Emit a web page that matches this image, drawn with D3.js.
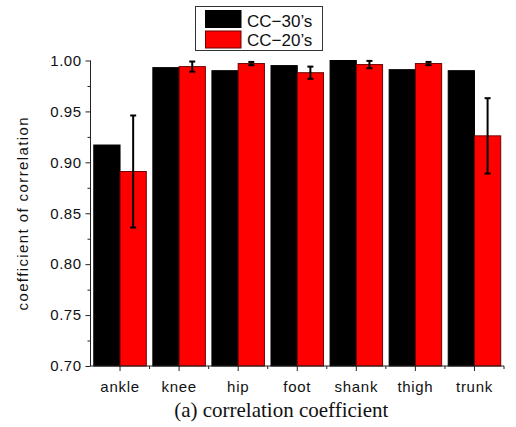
<!DOCTYPE html>
<html>
<head>
<meta charset="utf-8">
<script src="https://cdn.jsdelivr.net/npm/d3@7"></script>
<style>
  html, body { margin: 0; padding: 0; background: #fff; }
  svg { display: block; }
</style>
</head>
<body>
<svg id="chart" width="516" height="427"></svg>
<script>
const categories = ["ankle", "knee", "hip", "foot", "shank", "thigh", "trunk"];
const cc30 = [0.917, 0.993, 0.990, 0.995, 1.000, 0.991, 0.990];
const cc20 = [0.891, 0.994, 0.997, 0.988, 0.996, 0.997, 0.926];
const cc20Err = [0.055, 0.005, 0.0016, 0.006, 0.0036, 0.0016, 0.037];
const seriesNames = ["CC\u221230\u2019s", "CC\u221220\u2019s"];
const yTicks = [0.70, 0.75, 0.80, 0.85, 0.90, 0.95, 1.00];
const yMinorTicks = [0.725, 0.775, 0.825, 0.875, 0.925, 0.975];
const yTitle = "coefficient of correlation";
const caption = "(a) correlation coefficient";

(function () {
const svg = d3.select("#chart");
const pLeft = 90.5, pRight = 504, pTop = 60.5, pBottom = 366;
const sansFont = "'Liberation Sans', Arial, sans-serif";

const x = d3.scaleBand().domain(categories).range([pLeft, pRight]).paddingInner(0).paddingOuter(0);
const xInner = d3.scaleBand().domain([0, 1]).range([0, x.bandwidth()]).paddingInner(0).paddingOuter(0.125);
const y = d3.scaleLinear().domain([0.70, 1.00]).range([pBottom, pTop]);

const series = [
  { name: seriesNames[0], values: cc30, fill: "#000000", stroke: "#000000" },
  { name: seriesNames[1], values: cc20, fill: "#ff0000", stroke: "#6e0000", err: cc20Err }
];

// bars
series.forEach((s, si) => {
  svg.append("g").selectAll("rect")
    .data(categories)
    .join("rect")
    .attr("x", d => x(d) + xInner(si))
    .attr("y", (d, i) => y(s.values[i]))
    .attr("width", xInner.bandwidth())
    .attr("height", (d, i) => y(0.70) - y(s.values[i]))
    .attr("fill", s.fill)
    .attr("stroke", s.stroke)
    .attr("stroke-width", 1);
});

// error bars
const errS = series[1];
const eg = svg.append("g").attr("stroke", "#000").attr("stroke-width", 2);
categories.forEach((c, i) => {
  const cx = x(c) + xInner(1) + xInner.bandwidth() / 2;
  const hi = y(errS.values[i] + errS.err[i]);
  const lo = y(errS.values[i] - errS.err[i]);
  eg.append("line").attr("x1", cx).attr("x2", cx).attr("y1", hi).attr("y2", lo);
  eg.append("line").attr("x1", cx - 3).attr("x2", cx + 3).attr("y1", hi).attr("y2", hi);
  eg.append("line").attr("x1", cx - 3).attr("x2", cx + 3).attr("y1", lo).attr("y2", lo);
});

// y axis
const yAxis = d3.axisLeft(y).tickValues(yTicks).tickFormat(d3.format(".2f")).tickSize(5).tickPadding(4);
const yg = svg.append("g").attr("transform", `translate(${pLeft},0)`).call(yAxis);
yg.select(".domain").attr("stroke", "#222").attr("d", `M0,${pTop}V${pBottom}`);
yg.selectAll(".tick line").attr("stroke", "#222");
yg.selectAll(".tick text").attr("font-family", sansFont).attr("font-size", 15).attr("fill", "#111")
  .attr("letter-spacing", "0.5px");
const yMinor = d3.axisLeft(y).tickValues(yMinorTicks).tickFormat("").tickSize(3);
const ymg = svg.append("g").attr("transform", `translate(${pLeft},0)`).call(yMinor);
ymg.select(".domain").remove();
ymg.selectAll(".tick line").attr("stroke", "#222");

// x axis
const xAxis = d3.axisBottom(x).tickSize(5).tickPadding(10);
const xg = svg.append("g").attr("transform", `translate(0,${pBottom})`).call(xAxis);
xg.select(".domain").attr("stroke", "#222").attr("d", `M${pLeft},0H${pRight}`);
xg.selectAll(".tick line").attr("stroke", "#222");
xg.selectAll(".tick text").attr("font-family", sansFont).attr("font-size", 15).attr("fill", "#111")
  .attr("letter-spacing", "0.7px");
const xMinorPos = categories.map(c => x(c)).concat([pRight]).slice(1);
const xmg = svg.append("g").attr("transform", `translate(0,${pBottom})`);
xmg.selectAll("line").data(xMinorPos).join("line")
  .attr("x1", d => d).attr("x2", d => d).attr("y1", 0).attr("y2", 3)
  .attr("stroke", "#222");

// y title
svg.append("text")
  .attr("transform", `translate(27.5,${(pTop + pBottom) / 2}) rotate(-90)`)
  .attr("text-anchor", "middle")
  .attr("font-family", sansFont).attr("font-size", 15).attr("letter-spacing", "1.4px")
  .attr("fill", "#111")
  .text(yTitle);

// caption
svg.append("text")
  .attr("x", (pLeft + pRight) / 2 - 16).attr("y", 417)
  .attr("text-anchor", "middle")
  .attr("font-family", "'Liberation Serif', 'Times New Roman', serif").attr("font-size", 21)
  .attr("fill", "#111")
  .text(caption);

// legend
const lg = svg.append("g");
lg.append("rect").attr("x", 195.5).attr("y", 6.5).attr("width", 127).attr("height", 44)
  .attr("fill", "#fff").attr("stroke", "#333").attr("stroke-width", 1);
series.forEach((s, si) => {
  lg.append("rect").attr("x", 205.5).attr("y", 10.5 + si * 20.5).attr("width", 35.5).attr("height", 17)
    .attr("fill", s.fill).attr("stroke", s.stroke).attr("stroke-width", 1);
  lg.append("text").attr("x", 247).attr("y", 26.5 + si * 19)
    .attr("font-family", sansFont).attr("font-size", 17).attr("fill", "#111")
    .text(s.name);
});
})();
</script>
</body>
</html>
